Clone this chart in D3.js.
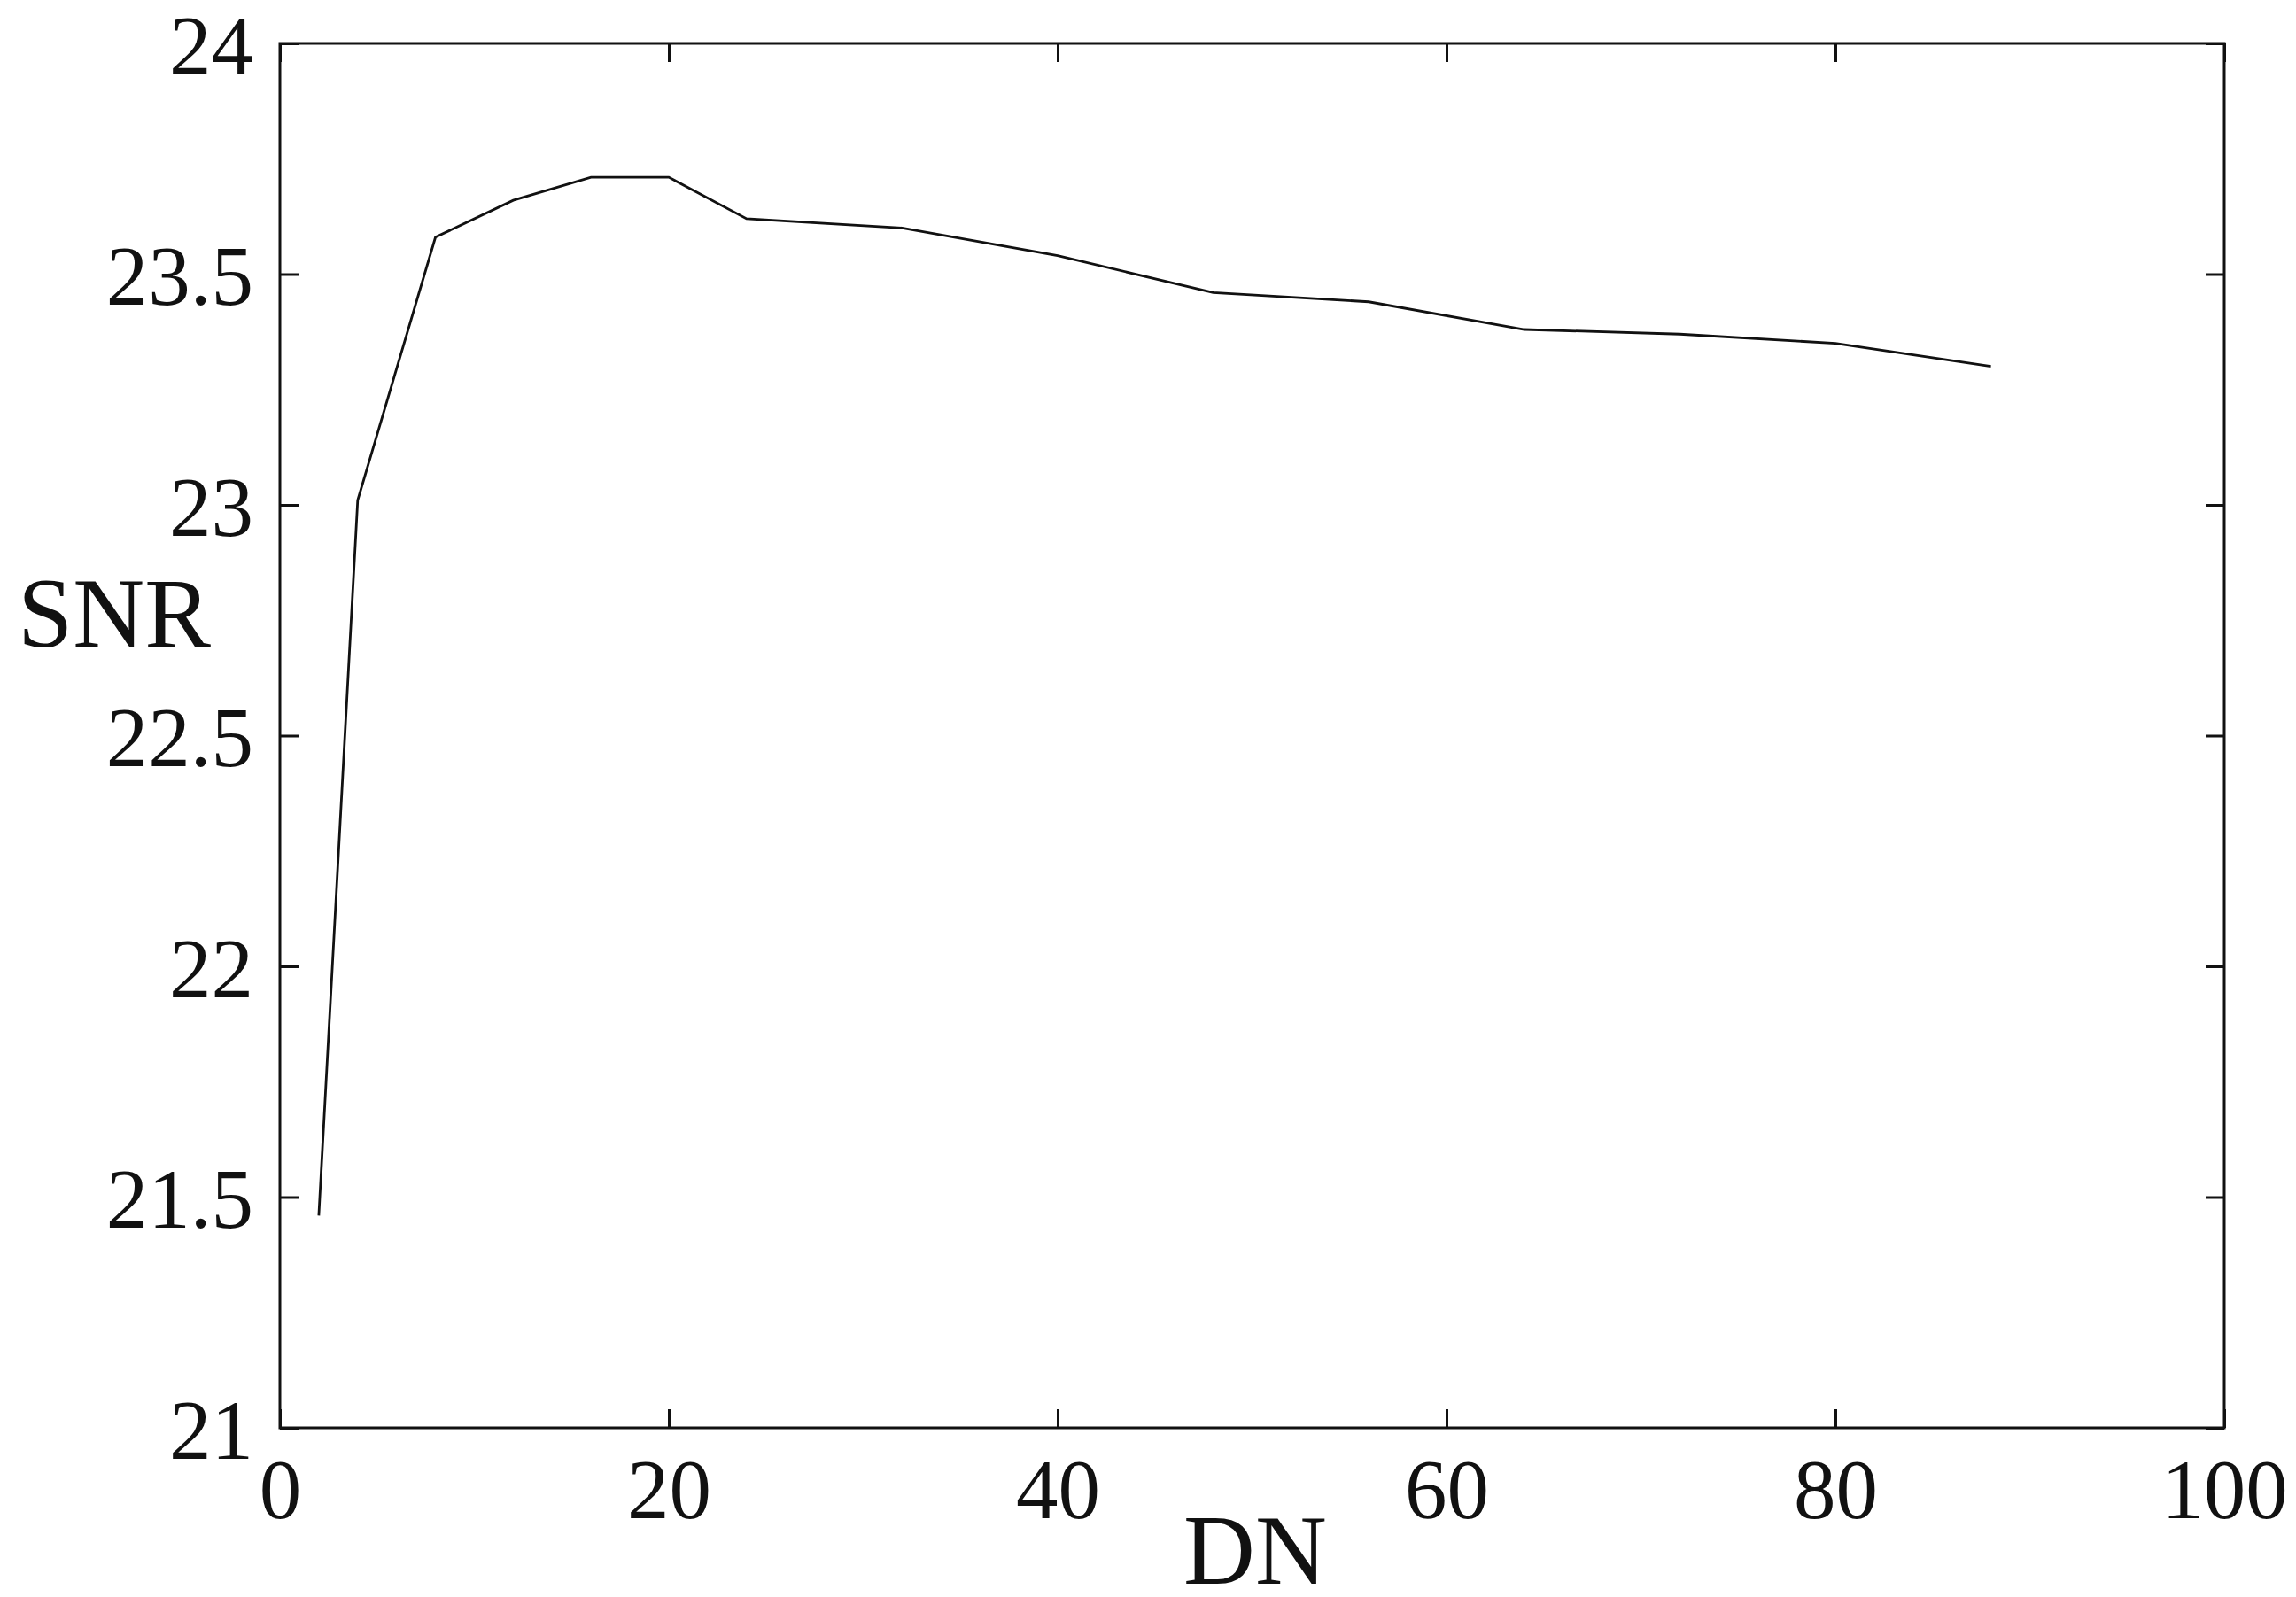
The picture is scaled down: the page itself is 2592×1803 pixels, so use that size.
<!DOCTYPE html>
<html>
<head>
<meta charset="utf-8">
<script src="https://cdn.jsdelivr.net/npm/d3@7"></script>
<style>
    body { margin: 0; background: #fff; }
    svg text { font-family: "Liberation Serif", "Times New Roman", serif; fill: #111; }
</style>
</head>
<body>
<svg id="chart" width="2592" height="1803"></svg>
<script>
var dn = [2, 4, 8, 12, 16, 20, 24, 32, 40, 48, 56, 64, 72, 80, 88];
var snr = [21.46, 23.01, 23.58, 23.66, 23.71, 23.71, 23.62, 23.60, 23.54, 23.46, 23.44, 23.38, 23.37, 23.35, 23.30];
var xTicks = [0, 20, 40, 60, 80, 100];
var yTicks = [21, 21.5, 22, 22.5, 23, 23.5, 24];
var xLabel = "DN";
var yLabel = "SNR";

var plotLeft = 316, plotRight = 2511, plotTop = 49, plotBottom = 1612;
var tickLen = 21;

var svg = d3.select("#chart");

var x = d3.scaleLinear().domain([0, 100]).range([plotLeft, plotRight]);
var y = d3.scaleLinear().domain([21, 24]).range([plotBottom, plotTop]);

function styleAxis(g) {
    g.select(".domain").remove();
    g.selectAll(".tick line").attr("stroke", "#111").attr("stroke-width", 3);
    g.selectAll("text").attr("fill", "#111").attr("font-family", "Liberation Serif, Times New Roman, serif");
}

// ticks on all four sides, pointing inward
svg.append("g")
    .attr("transform", "translate(0," + plotBottom + ")")
    .call(d3.axisBottom(x).tickValues(xTicks).tickSize(-tickLen).tickPadding(35).tickFormat(d3.format("")))
    .call(styleAxis)
    .selectAll("text").attr("font-size", 95).attr("dy", "0.71em");

svg.append("g")
    .attr("transform", "translate(0," + plotTop + ")")
    .call(d3.axisTop(x).tickValues(xTicks).tickSize(-tickLen).tickFormat(""))
    .call(styleAxis);

svg.append("g")
    .attr("transform", "translate(" + plotLeft + ",0)")
    .call(d3.axisLeft(y).tickValues(yTicks).tickSize(-tickLen).tickPadding(30).tickFormat(d3.format("")))
    .call(styleAxis)
    .selectAll("text").attr("font-size", 95).attr("dy", "0.36em");

svg.append("g")
    .attr("transform", "translate(" + plotRight + ",0)")
    .call(d3.axisRight(y).tickValues(yTicks).tickSize(-tickLen).tickFormat(""))
    .call(styleAxis);

// box
svg.append("rect")
    .attr("x", plotLeft)
    .attr("y", plotTop)
    .attr("width", plotRight - plotLeft)
    .attr("height", plotBottom - plotTop)
    .attr("fill", "none")
    .attr("stroke", "#111")
    .attr("stroke-width", 3);

var line = d3.line()
    .x(function(d, i) { return x(dn[i]); })
    .y(function(d) { return y(d); });

svg.append("path")
    .datum(snr)
    .attr("d", line)
    .attr("fill", "none")
    .attr("stroke", "#111")
    .attr("stroke-width", 2.8);

svg.append("text")
    .attr("x", 1417)
    .attr("y", 1788)
    .attr("text-anchor", "middle")
    .attr("font-size", 112)
    .text(xLabel);

svg.append("text")
    .attr("x", 20)
    .attr("y", 730)
    .attr("text-anchor", "start")
    .attr("font-size", 112)
    .text(yLabel);
</script>
</body>
</html>
